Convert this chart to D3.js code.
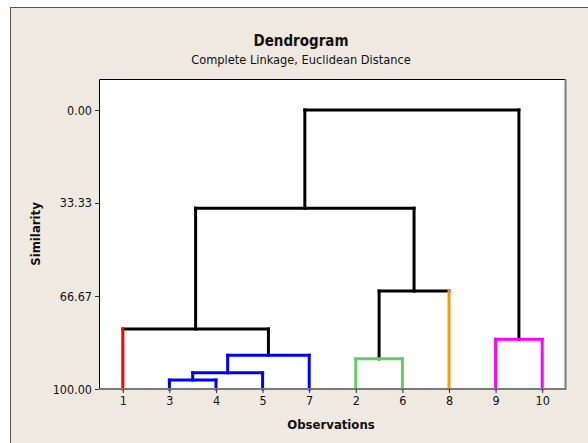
<!DOCTYPE html>
<html>
<head>
<meta charset="utf-8">
<script src="https://cdn.jsdelivr.net/npm/d3@7"></script>
<style>
  html, body { margin: 0; padding: 0; background: #ffffff; }
  svg { display: block; }
  text { font-family: "DejaVu Sans Condensed", "DejaVu Sans", sans-serif; fill: #111; }
</style>
</head>
<body>
<svg id="chart" width="588" height="443"></svg>
<script>
// ---- data ----
const leafLabels = ["1", "3", "4", "5", "7", "2", "6", "8", "9", "10"];
// linkage steps: leaves referenced by observation label, merges by "L<step>"
const mergeLeft  = ["3",  "L0", "2",  "L1", "9",  "1",  "L2", "L5", "L7"];
const mergeRight = ["4",  "5",  "6",  "7",  "10", "L3", "8",  "L6", "L4"];
const mergeSimilarity = [96.8, 94.2, 89.2, 87.9, 82.2, 78.5, 64.9, 35.2, 0.0];
// cluster colours (leaf or merge id -> colour)
const clusterIds    = ["1",       "L3",      "L2",      "8",       "L4"];
const clusterColors = ["#ff0000", "#0000ff", "#66cc66", "#ff9900", "#ff00ff"];
const yTicks = [0.00, 33.33, 66.67, 100.00];
const titleText = "Dendrogram";
const subtitleText = "Complete Linkage, Euclidean Distance";
const xTitle = "Observations";
const yTitle = "Similarity";

// ---- layout ----
const svg = d3.select("#chart");
const box = { left: 99.5, right: 565.5, top: 79.5, bottom: 389 };

// outer panel
svg.append("rect").attr("x", 10.5).attr("y", 7.5).attr("width", 600).attr("height", 460)
  .attr("fill", "#eeeae1").attr("stroke", "#555").attr("stroke-width", 1);

// plot box
svg.append("rect").attr("x", box.left).attr("y", box.top)
  .attr("width", box.right - box.left).attr("height", box.bottom - box.top)
  .attr("fill", "#ffffff").attr("stroke", "none");

const x = d3.scalePoint().domain(leafLabels).range([box.left, box.right]).padding(0.5);
const y = d3.scaleLinear().domain([0, 100]).range([110, 389]);

// build nodes
const nodes = {};
leafLabels.forEach(l => { nodes[l] = { id: l, leaf: true, x: x(l), s: 100 }; });
mergeLeft.forEach((a, i) => {
  const A = nodes[a], B = nodes[mergeRight[i]];
  nodes["L" + i] = { id: "L" + i, leaf: false, a: A, b: B, x: (A.x + B.x) / 2, s: mergeSimilarity[i] };
});
const colorOf = {};
function paint(n, c) {
  colorOf[n.id] = c;
  if (!n.leaf) { paint(n.a, c); paint(n.b, c); }
}
clusterIds.forEach((id, i) => paint(nodes[id], clusterColors[i]));

const segs = [];
mergeLeft.forEach((_, i) => {
  const n = nodes["L" + i];
  const nc = colorOf[n.id];
  segs.push({ x1: n.a.x, x2: n.b.x, y1: y(n.s), y2: y(n.s), c: nc || "#000" });
  [n.a, n.b].forEach(ch => {
    const c = nc || (ch.leaf ? colorOf[ch.id] : null) || "#000";
    segs.push({ x1: ch.x, x2: ch.x, y1: y(ch.s), y2: y(n.s), c });
  });
});

// draw black first, coloured on top
const g = svg.append("g");
g.selectAll("line.seg").data(segs.sort((p, q) => (p.c === "#000") - (q.c === "#000")).reverse())
  .join("line").attr("class", "seg")
  .attr("x1", d => d.x1).attr("x2", d => d.x2)
  .attr("y1", d => d.y1).attr("y2", d => d.y2)
  .attr("stroke", d => d.c).attr("stroke-width", 3).attr("stroke-linecap", "square");

// box border
svg.append("path").attr("d", `M${box.left},${box.bottom}V${box.top}H${box.right}`)
  .attr("fill", "none").attr("stroke", "#000").attr("stroke-width", 1);
svg.append("path").attr("d", `M${box.right},${box.top}V${box.bottom}H${box.left}`)
  .attr("fill", "none").attr("stroke", "#7a7a7a").attr("stroke-width", 2);

// axes
const yAxis = d3.axisLeft(y).tickValues(yTicks).tickFormat(d3.format(".2f")).tickSize(4).tickPadding(3);
const ya = svg.append("g").attr("transform", `translate(${box.left - 0.5},0)`).call(yAxis);
ya.select(".domain").remove();
ya.selectAll("line").attr("stroke", "#333");
ya.selectAll("text").style("font-size", "12.5px").attr("fill", "#111");

const xAxis = d3.axisBottom(x).tickSize(4).tickPadding(3);
const xa = svg.append("g").attr("transform", `translate(0,${box.bottom})`).call(xAxis);
xa.select(".domain").remove();
xa.selectAll("line").attr("stroke", "#333");
xa.selectAll("text").style("font-size", "12.5px").attr("fill", "#111");

// titles
svg.append("text").attr("x", 301).attr("y", 46).attr("text-anchor", "middle")
  .style("font-size", "15px").style("font-weight", "bold").text(titleText);
svg.append("text").attr("x", 301).attr("y", 64).attr("text-anchor", "middle")
  .style("font-size", "12.7px").text(subtitleText);
svg.append("text").attr("x", 331).attr("y", 429).attr("text-anchor", "middle")
  .style("font-size", "13px").style("font-weight", "bold").text(xTitle);
svg.append("text").attr("transform", "translate(40,234) rotate(-90)").attr("text-anchor", "middle")
  .style("font-size", "13px").style("font-weight", "bold").text(yTitle);
</script>
</body>
</html>
